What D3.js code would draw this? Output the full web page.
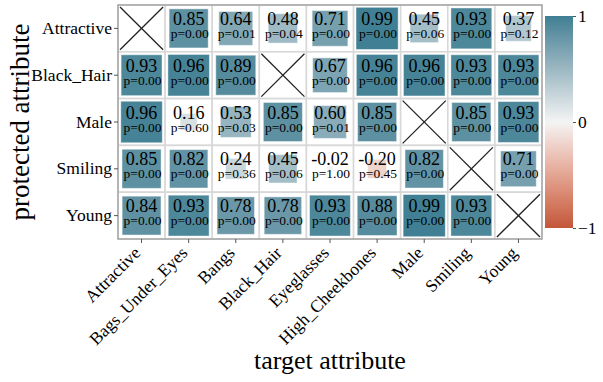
<!DOCTYPE html>
<html><head><meta charset="utf-8">
<script src="https://cdn.jsdelivr.net/npm/d3@7"></script>
<style>
body{margin:0;background:#fff}
svg text{font-family:"Liberation Serif","Times New Roman",Times,serif !important;fill:#000}
</style>
</head><body><svg id="c" width="603" height="382"></svg>
<script>
const protectedAttrs = ["Attractive","Black_Hair","Male","Smiling","Young"];
const targetAttrs = ["Attractive","Bags_Under_Eyes","Bangs","Black_Hair","Eyeglasses","High_Cheekbones","Male","Smiling","Young"];
// null = crossed-out cell (target equals protected attribute)
const corrValues = [
  [null, 0.85, 0.64, 0.48, 0.71, 0.99, 0.45, 0.93, 0.37],
  [0.93, 0.96, 0.89, null, 0.67, 0.96, 0.96, 0.93, 0.93],
  [0.96, 0.16, 0.53, 0.85, 0.60, 0.85, null, 0.85, 0.93],
  [0.85, 0.82, 0.24, 0.45, -0.02, -0.20, 0.82, null, 0.71],
  [0.84, 0.93, 0.78, 0.78, 0.93, 0.88, 0.99, 0.93, null]
];
const pValues = [
  [null, 0.00, 0.01, 0.04, 0.00, 0.00, 0.06, 0.00, 0.12],
  [0.00, 0.00, 0.00, null, 0.00, 0.00, 0.00, 0.00, 0.00],
  [0.00, 0.60, 0.03, 0.00, 0.01, 0.00, null, 0.00, 0.00],
  [0.00, 0.00, 0.36, 0.06, 1.00, 0.45, 0.00, null, 0.00],
  [0.00, 0.00, 0.00, 0.00, 0.00, 0.00, 0.00, 0.00, null]
];
const colorbarTicks = [-1, 0, 1];
const colorbarTickLabels = ["\u22121", "0", "1"];

const FONT = '"Liberation Serif","Times New Roman",Times,serif';
const svg = d3.select("#c");
const x = d3.scaleBand().domain(targetAttrs).range([118, 542]);
const y = d3.scaleBand().domain(protectedAttrs).range([5, 239]);
const color = d3.scaleLinear().domain([-1, 0, 1])
  .range(["#c3553a", "#f4f4f4", "#3f7f93"]).interpolate(d3.interpolateLab);
const side = d3.scaleSqrt().domain([0, 1]).range([0, 0.9 * x.bandwidth()]);

const cells = [];
protectedAttrs.forEach((p, i) => targetAttrs.forEach((t, j) => {
  cells.push({p, t, r: corrValues[i][j], pv: pValues[i][j]});
}));

// grid
svg.append("g").selectAll("rect").data(cells).join("rect")
  .attr("x", d => x(d.t)).attr("y", d => y(d.p))
  .attr("width", x.bandwidth()).attr("height", y.bandwidth())
  .attr("fill", "#fff").attr("stroke", "#d8d8d8").attr("stroke-width", 1.6);

// squares
const filled = cells.filter(d => d.r !== null);
svg.append("g").selectAll("rect").data(filled).join("rect")
  .attr("x", d => x(d.t) + x.bandwidth() / 2 - side(Math.abs(d.r)) / 2)
  .attr("y", d => y(d.p) + y.bandwidth() / 2 - side(Math.abs(d.r)) / 2)
  .attr("width", d => side(Math.abs(d.r))).attr("height", d => side(Math.abs(d.r)))
  .attr("fill", d => color(d.r))
  .attr("stroke", "#fff").attr("stroke-opacity", 0.45).attr("stroke-width", 1);

// crosses
const crossed = cells.filter(d => d.r === null);
const cg = svg.append("g").attr("stroke", "#222").attr("stroke-width", 1.3);
crossed.forEach(d => {
  const x0 = x(d.t) + 2, x1 = x(d.t) + x.bandwidth() - 2;
  const y0 = y(d.p) + 2, y1 = y(d.p) + y.bandwidth() - 2;
  cg.append("line").attr("x1", x0).attr("y1", y0).attr("x2", x1).attr("y2", y1);
  cg.append("line").attr("x1", x0).attr("y1", y1).attr("x2", x1).attr("y2", y0);
});

// texts
const tg = svg.append("g").attr("text-anchor", "middle");
filled.forEach(d => {
  const cx = x(d.t) + x.bandwidth() / 2, cy = y(d.p) + y.bandwidth() / 2;
  tg.append("text").attr("x", cx).attr("y", cy - 3.5).style("font-size", "18px")
    .text(d.r.toFixed(2));
  tg.append("text").attr("x", cx + 1).attr("y", cy + 9.5).style("font-size", "13.5px")
    .text("p=" + d.pv.toFixed(2));
});

// border
svg.append("rect").attr("x", 118).attr("y", 5).attr("width", 424).attr("height", 234)
  .attr("fill", "none").attr("stroke", "#999").attr("stroke-width", 1.2);

// axes
const ya = svg.append("g").attr("transform", "translate(118,0)")
  .call(d3.axisLeft(y).tickSize(4).tickPadding(2));
ya.attr("font-family", FONT).attr("font-size", null);
ya.select(".domain").remove();
ya.selectAll("line").attr("stroke", "#555");
ya.selectAll("text").style("font-size", "17.5px");

const xa = svg.append("g").attr("transform", "translate(0,239)")
  .call(d3.axisBottom(x).tickSize(4).tickPadding(2));
xa.attr("font-family", FONT).attr("font-size", null);
xa.select(".domain").remove();
xa.selectAll("line").attr("stroke", "#555");
xa.selectAll("text").style("font-size", "17.5px")
  .attr("text-anchor", "end").attr("dy", null).attr("y", null)
  .attr("transform", "translate(0,15) rotate(-45)");

// axis titles
svg.append("text").attr("x", 330).attr("y", 369).attr("text-anchor", "middle")
  .style("font-size", "26px").text("target attribute");
svg.append("text").attr("transform", "translate(29,122) rotate(-90)")
  .attr("text-anchor", "middle").style("font-size", "27px").text("protected attribute");

// colorbar
const cb = d3.scaleLinear().domain([-1, 1]).range([228, 16]);
const defs = svg.append("defs");
const grad = defs.append("linearGradient").attr("id", "cbg")
  .attr("x1", 0).attr("y1", 1).attr("x2", 0).attr("y2", 0);
d3.range(-1, 1.001, 0.1).forEach(v => {
  grad.append("stop").attr("offset", (v + 1) / 2).attr("stop-color", color(v));
});
svg.append("rect").attr("x", 545).attr("y", cb(1)).attr("width", 28)
  .attr("height", cb(-1) - cb(1)).attr("fill", "url(#cbg)");
const ca = svg.append("g").attr("transform", "translate(573,0)")
  .call(d3.axisRight(cb).tickValues(colorbarTicks)
    .tickFormat((d, i) => colorbarTickLabels[i]).tickSize(3).tickPadding(2));
ca.attr("font-family", FONT).attr("font-size", null);
ca.select(".domain").remove();
ca.selectAll("line").attr("stroke", "#555");
ca.selectAll("text").style("font-size", "17.5px");
</script>
</body></html>
